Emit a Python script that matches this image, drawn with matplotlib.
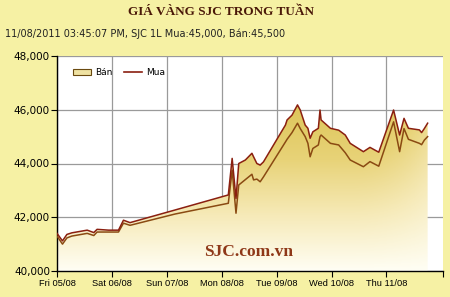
import numpy as np
import matplotlib
matplotlib.use("Agg")
import matplotlib.pyplot as plt
from matplotlib.colors import LinearSegmentedColormap
from matplotlib.patches import Patch
from matplotlib.lines import Line2D

# ── dữ liệu (ngày tính từ Fri 05/08 00:00) ───────────────────────────────────
t = [0.00, 0.10, 0.18, 0.27, 0.55, 0.67, 0.73, 0.94, 1.12, 1.21, 1.33, 2.15,
     3.12, 3.19, 3.26, 3.31, 3.43, 3.55, 3.58, 3.64, 3.70, 3.76, 4.16, 4.19,
     4.28, 4.38, 4.43, 4.52, 4.57, 4.61, 4.66, 4.76, 4.79, 4.81, 4.98, 5.13,
     5.25, 5.34, 5.58, 5.70, 5.86, 6.13, 6.24, 6.32, 6.40, 6.60, 6.64, 6.69,
     6.75]
ban = [41400, 41120, 41360, 41420, 41520, 41430, 41550, 41520, 41520, 41890,
       41800, 42270, 42830, 44190, 42700, 44000, 44130, 44380, 44250, 44000,
       43940, 44060, 45430, 45620, 45800, 46180, 45990, 45430, 45310, 44940,
       45180, 45310, 45990, 45620, 45310, 45240, 45060, 44750, 44440, 44600,
       44420, 45990, 45060, 45680, 45310, 45250, 45150, 45300, 45500]
mua = [41300, 41000, 41230, 41300, 41400, 41320, 41450, 41450, 41450, 41780,
       41700, 42120, 42520, 43750, 42150, 43200, 43400, 43600, 43390, 43420,
       43320, 43500, 44800, 44900, 45150, 45500, 45300, 45000, 44750, 44250,
       44560, 44690, 45000, 45060, 44750, 44690, 44400, 44130, 43880, 44070,
       43900, 45550, 44440, 45300, 44900, 44750, 44700, 44870, 45000]

day_labels = ["Fri 05/08", "Sat 06/08", "Sun 07/08", "Mon 08/08",
              "Tue 09/08", "Wed 10/08", "Thu 11/08"]
y_ticks = [40000, 42000, 44000, 46000, 48000]

BG = "#f6f1a4"
RED = "#8a1f10"
BROWN = "#8a4a12"

# ── vẽ ───────────────────────────────────────────────────────────────────────
fig = plt.figure(figsize=(4.5, 2.97), dpi=100, facecolor=BG)
ax = fig.add_axes([57 / 450, 1 - 271 / 297, 386 / 450, 215 / 297])
ax.set_facecolor("white")

x_max = 7.03
ax.set_xlim(0, x_max)
ax.set_ylim(40000, 48000)

# vùng Bán tô gradient
poly = ax.fill_between(t, ban, 40000, facecolor="none", edgecolor="none")
cmap = LinearSegmentedColormap.from_list(
    "sjc", ["#fffef4", "#f6eab8", "#e8d378", "#ddc55a"])
gy = np.linspace(0, 1, 200)[:, None]
gx = np.linspace(0, 1, 200)[None, :]
grad = gy * (1 - 0.35 * np.clip((gx - 0.8) / 0.2, 0, 1) ** 2)
img = ax.imshow(grad, cmap=cmap, vmin=0, vmax=1, origin="lower",
                extent=[0, t[-1], 40000, 46200], aspect="auto", zorder=1)
img.set_clip_path(poly.get_paths()[0], transform=ax.transData)

ax.plot(t, mua, color=BROWN, lw=1.1, zorder=3)
ax.plot(t, ban, color=RED, lw=1.1, zorder=4)

# lưới và trục
ax.set_xticks(range(7))
ax.set_xticklabels(day_labels)
ax.set_yticks(y_ticks)
ax.set_yticklabels([f"{v:,}" for v in y_ticks])
ax.grid(True, color="#9a9a9a", lw=0.9, zorder=0)
ax.set_axisbelow(True)
for s in ["top", "right"]:
    ax.spines[s].set_visible(False)
for s in ["left", "bottom"]:
    ax.spines[s].set_color("black")
    ax.spines[s].set_linewidth(1.0)
ax.tick_params(axis="both", direction="out", length=4, width=0.8,
               colors="black", pad=1)
ax.tick_params(axis="y", labelsize=7.5)
ax.tick_params(axis="x", labelsize=6.7, pad=2)
ax.set_xticks([x_max], minor=True)
ax.tick_params(axis="x", which="minor", length=4, width=0.8)
for lab in ax.get_xticklabels():
    lab.set_fontfamily("Liberation Sans")

# chú thích
handles = [Patch(facecolor="#efe2a2", edgecolor="#6a4a10", lw=0.8),
           Line2D([], [], color=RED, lw=1.2)]
ax.legend(handles, ["Bán", "Mua"], loc="upper left", ncol=2, frameon=False,
          fontsize=6.5, bbox_to_anchor=(0.02, 0.98), handlelength=2.0,
          handleheight=0.7, columnspacing=1.2, handletextpad=0.5)

# tiêu đề
fig.text(0.49, 1 - 12 / 297, "GIÁ VÀNG SJC TRONG TUẦN", ha="center",
         va="center", fontsize=9.5, fontweight="bold",
         fontfamily="Liberation Serif", color="#4a1808")
fig.text(5 / 450, 1 - 34 / 297,
         "11/08/2011 03:45:07 PM, SJC 1L Mua:45,000, Bán:45,500",
         ha="left", va="center", fontsize=7, color="#222222",
         fontfamily="DejaVu Sans")
ax.text(3.48, 40700, "SJC.com.vn", ha="center", va="center", fontsize=12.5,
        fontweight="bold", fontfamily="Liberation Serif", color="#8e3818",
        zorder=5)

fig.savefig("out.png", dpi=100, facecolor=BG)
